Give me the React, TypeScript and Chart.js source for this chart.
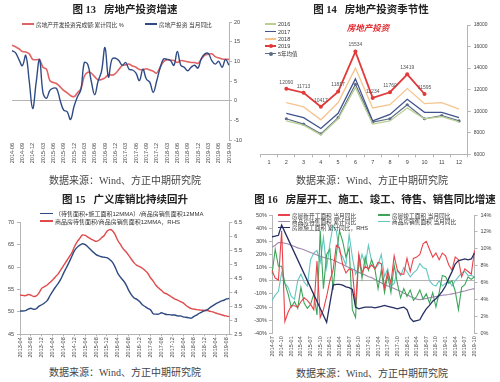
import React, { useEffect, useRef } from "react";
import { Chart, registerables } from "chart.js";
Chart.register(...registerables);

const FONT = "'Liberation Sans','Noto Sans CJK SC',sans-serif";
const TFONT = "'Liberation Serif','Noto Sans CJK SC',serif";
Chart.defaults.font.family = FONT;
Chart.defaults.color = "#444";

function months(y0: number, m0: number, n: number): string[] {
  const out: string[] = [];
  let y = y0, m = m0;
  for (let i = 0; i < n; i++) {
    out.push(`${y}-${String(m).padStart(2, "0")}`);
    m++;
    if (m > 12) { m = 1; y++; }
  }
  return out;
}

// ---------- Fig 13 ----------
const f13Labels = months(2014, 6, 64);
const f13Cum = [14.1, 13.7, 13.2, 12.5, 12.4, 11.9, 10.5, 10.4, 10.4, 8.5, 8.0, 5.1, 4.6, 4.3, 3.5, 2.6, 2.0, 1.3, 1.0, 2.0, 3.0, 6.2, 7.2, 7.0, 6.1, 5.3, 5.4, 5.8, 6.6, 6.5, 6.9, 7.9, 8.9, 9.1, 9.3, 8.8, 8.5, 7.9, 7.9, 8.1, 7.8, 7.5, 7.0, 8.5, 9.9, 10.4, 10.3, 10.2, 9.7, 10.2, 10.1, 9.9, 9.7, 9.7, 9.5, 10.6, 11.6, 11.8, 11.9, 11.2, 10.9, 10.6, 10.5, 10.5];
const f13Mon = [12.7, 12.2, 10.5, 8.9, 11.5, 5.0, -2.0, 4.5, 10.5, 2.0, 0.6, 2.6, 3.2, 3.0, 0.0, -2.4, -2.8, -4.8, -1.5, 1.0, 2.8, 9.7, 9.2, 5.0, 1.5, 5.0, 7.5, 13.5, 6.0, 10.5, 10.8, 10.2, 9.0, 9.7, 8.0, 7.8, 7.0, 5.1, 8.0, 5.5, 4.7, 2.1, 5.0, 8.3, 10.6, 10.5, 10.2, 9.0, 12.5, 9.0, 8.5, 7.6, 8.5, 9.0, 8.3, 10.8, 11.9, 12.0, 10.2, 9.3, 10.0, 8.5, 10.5, 9.0];

// ---------- Fig 14 ----------
const f14Labels = ["1", "2", "3", "4", "5", "6", "7", "8", "9", "10", "11", "12"];
const y2016 = [null, 9100, 8700, 7800, 9300, 12200, 8800, 9100, 10300, 9300, 9500, 9000];
const y2017 = [null, 9800, 9400, 8400, 9800, 13000, 9100, 9700, 11100, 9900, 9900, 9400];
const y2018 = [null, 10800, 10400, 9200, 10800, 14000, 10300, 10600, 12100, 10700, 10800, 10200];
const y2019 = [null, 12090, 11713, 10417, 11817, 15534, 11234, 11760, 13419, 11595, null, null];
const avg5 = [null, 9300, 8800, 7900, 9400, 12500, 9000, 9300, 10600, 9300, 9600, 9100];

// ---------- Fig 15 ----------
const f15Labels = months(2013, 4, 78);
const f15Broad = [50.2, 50.2, 50.3, 50.6, 50.8, 50.6, 50.7, 51.3, 51.6, 52.0, 52.5, 53.6, 54.6, 55.5, 56.3, 57.3, 58.6, 59.8, 61.0, 62.3, 63.6, 64.4, 64.9, 65.2, 65.0, 64.5, 63.9, 63.3, 62.8, 62.5, 62.3, 62.2, 62.1, 61.7, 61.1, 60.0, 58.6, 57.7, 57.0, 56.1, 54.8, 53.8, 53.1, 52.8, 52.3, 51.6, 51.2, 50.8, 50.5, 49.6, 49.5, 49.5, 49.8, 49.6, 49.4, 49.4, 49.3, 49.3, 49.1, 49.1, 48.9, 48.8, 48.7, 48.6, 49.0, 49.3, 49.7, 50.0, 50.3, 50.5, 51.0, 51.4, 51.8, 52.1, 52.4, 52.6, 52.9, 53.0];
const f15Narrow = [3.90, 3.89, 3.88, 3.92, 3.90, 3.85, 3.87, 3.98, 4.14, 4.20, 4.26, 4.35, 4.44, 4.55, 4.65, 4.80, 4.95, 5.10, 5.25, 5.40, 5.62, 5.80, 5.93, 6.05, 6.03, 5.97, 5.91, 5.86, 5.82, 5.86, 5.95, 6.03, 6.18, 6.24, 6.20, 6.06, 5.85, 5.70, 5.55, 5.45, 5.32, 5.18, 5.05, 4.96, 4.92, 4.86, 4.78, 4.68, 4.52, 4.40, 4.25, 4.15, 4.07, 3.98, 3.94, 3.88, 3.82, 3.76, 3.72, 3.67, 3.62, 3.54, 3.47, 3.42, 3.40, 3.38, 3.37, 3.36, 3.35, 3.35, 3.32, 3.30, 3.26, 3.23, 3.20, 3.17, 3.15, 3.13];

// ---------- Fig 16 ----------
const f16Labels = months(2014, 7, 64);
const newStart = [8, 2, 0.5, 38, -31, -24, -19, -19, -20, -16, -13, -15, -18, -22, 15, -28, -22, -12, 0, 8, 27, 25, 12, 6, 9, 8, -19, 20, 6, 11, 9, 12, 9, 14, 13, -5, 7, -2, 19, 8, 5, 5, 17, 7, 17, 18, 20, 28, 30, 24, 18, 21, 16, 21, 19, 12, 8, 18, 16, 3, 9, 7, 5, 23];
const completed = [5, 24, 11, 11, -2, -10, -20, -16, -21, -5, -17, -21, -18, -10, -26, 38, -6, 20, 24, -7, 20, 38, 30, 18, 25, -22, -28, 20, 2, 18, 8, 16, 9, -6, 8, -9, 4, -9, 12, -2, -13, -6, -12, -7, -15, -12, -7, -14, -10, -17, -9, -20, -9, 4, 3, -2, 0, -8, -22, -5, -3, 3, 1, 3];
const unsold = [25.5, 27, 29, 29, 28.5, 28, 27, 26, 25, 24.3, 23.5, 22.5, 21.5, 20.5, 19.5, 18.5, 17.8, 17, 16.5, 15.7, 14.7, 13.5, 12.5, 11, 10, 9, 7.8, 6.5, 5.3, 4.3, 3, 2.5, 1, -0.5, -1.5, -3, -4, -5, -6, -7, -8, -9.5, -10.5, -12, -13, -14, -14.5, -14, -13.5, -13, -12.5, -12, -11.5, -11, -10.8, -10.5, -10, -9.5, -9, -8.3, -7.8, -7, -6.5, -6];
const sales = [-15, -11, -8, 6, -2, -5, -12, -14, 0, 5, -1, -4, 16, 21, 23, 14, 33, 10, 28, 42, 38, 22, 18, 12, 35, 18, 5, 10, 20, 12, 27, 15, 9, 12, 20, 3, 9, -4, -2, 8, 4, 10, 7, 3, 6, 8, 13, 10, 9, 0, -3, -4, 0, -4, -2, 0, -4, 0, 3, 6, 7, 4, 4, 3];
const underCon = [11.4, 11.5, 11.6, 12.8, null, null, null, null, null, null, null, null, null, null, null, null, null, 1.3, 3.5, 5.7, 5.8, 5.8, 5.7, 5.5, 5.4, 5.2, 3.1, 2.9, 3.0, 3.1, 3.1, 3.1, 3.0, 3.1, 3.2, 3.3, 3.2, 3.1, 3.0, 2.9, 3.0, 3.1, 2.8, 1.8, 1.4, 1.5, 1.6, 2.3, 2.9, 3.3, 3.8, 4.1, 4.5, 5.0, 5.6, 6.5, 7.3, 8.2, 8.6, 8.7, 8.8, 8.7, 8.8, 9.5];

const AX = "#b5b5b5";
const fitW = (w: number) => (s: any) => { s.width = w; };
const fitH = (h: number) => (s: any) => { s.height = h; };
const tickFont = { size: 5.5, family: FONT };
const base = {
  responsive: false,
  animation: false as const,
  events: [] as any[],
  plugins: { legend: { display: false }, tooltip: { enabled: false } },
};

function ChartBox({ left, top, width, height, make }: any) {
  const ref = useRef<HTMLCanvasElement>(null);
  useEffect(() => {
    const chart = new Chart(ref.current as HTMLCanvasElement, make());
    return () => chart.destroy();
  }, []);
  return (
    <div style={{ position: "absolute", left, top, width, height }}>
      <canvas ref={ref} width={width} height={height} style={{ width, height, display: "block" }} />
    </div>
  );
}

function Txt({ cx, cy, size, bold, italic, color, font, children }: any) {
  return (
    <div style={{
      position: "absolute", left: cx - 200, width: 400, top: cy - size * 0.75,
      textAlign: "center", fontSize: size, lineHeight: `${size * 1.5}px`,
      fontWeight: bold ? 700 : 400, fontStyle: italic ? "italic" : "normal",
      color: color || "#222", fontFamily: font || TFONT, whiteSpace: "pre",
    }}>{children}</div>
  );
}

function Leg({ x, y, color, text, lw = 1.5, marker, size = 5.7, len = 12 }: any) {
  return (
    <div style={{ position: "absolute", left: x, top: y - 5, height: 10, display: "flex", alignItems: "center", whiteSpace: "pre", fontFamily: FONT, fontSize: size, color: "#333" }}>
      <div style={{ position: "relative", width: len, height: 10, marginRight: 2 }}>
        <div style={{ position: "absolute", left: 0, right: 0, top: 5 - lw / 2, height: lw, background: color }} />
        {marker ? <div style={{ position: "absolute", left: len / 2 - 2, top: 3, width: 4, height: 4, borderRadius: 2, background: color }} /> : null}
      </div>
      <span>{text}</span>
    </div>
  );
}

const make13 = () => ({
  type: "line",
  data: {
    labels: f13Labels,
    datasets: [
      { data: f13Mon, borderColor: "#2f4b86", borderWidth: 1.4, pointRadius: 0, tension: 0.4 },
      { data: f13Cum, borderColor: "#e06464", borderWidth: 1.6, pointRadius: 0, tension: 0.4 },
    ],
  },
  options: {
    ...base,
    layout: { padding: { left: 12, top: 22, right: 0, bottom: 0 } },
    scales: {
      x: {
        afterFit: fitH(30),
        border: { display: false },
        grid: { display: false, drawTicks: false },
        ticks: { autoSkip: false, minRotation: 90, maxRotation: 90, padding: 3, font: tickFont, callback: (_v: any, i: number) => (i % 3 === 0 ? f13Labels[i] : "") },
      },
      y: {
        position: "right", min: -10, max: 20,
        afterFit: fitW(21),
        border: { color: AX },
        grid: { color: (c: any) => (c.tick && c.tick.value === 0 ? AX : "transparent"), tickColor: AX, tickLength: 3 },
        ticks: { stepSize: 5, padding: 2, font: tickFont, callback: (v: any) => String(v) },
      },
    },
  },
});

const labelPlugin = {
  id: "lbl2019",
  afterDatasetsDraw(chart: any) {
    const ctx = chart.ctx;
    const meta = chart.getDatasetMeta(3);
    ctx.save();
    ctx.font = `5px ${FONT}`;
    ctx.fillStyle = "#555";
    ctx.textAlign = "center";
    ctx.textBaseline = "bottom";
    meta.data.forEach((pt: any, i: number) => {
      const v = y2019[i];
      if (v == null) return;
      ctx.fillText(String(v), pt.x, pt.y - 4);
    });
    ctx.restore();
  },
};

const make14 = () => ({
  type: "line",
  data: {
    labels: f14Labels,
    datasets: [
      { data: y2016, borderColor: "#b9cf93", borderWidth: 1.3, pointRadius: 0 },
      { data: y2017, borderColor: "#42548f", borderWidth: 1.3, pointRadius: 0 },
      { data: y2018, borderColor: "#f6c48f", borderWidth: 1.3, pointRadius: 0 },
      { data: y2019, borderColor: "#e23a3a", backgroundColor: "#e23a3a", borderWidth: 1.8, pointRadius: 2, pointBorderWidth: 0 },
      { data: avg5, borderColor: "#5c6c88", backgroundColor: "#5c6c88", borderWidth: 1.2, pointRadius: 1.6, pointBorderWidth: 0 },
    ],
  },
  options: {
    ...base,
    layout: { padding: { left: 10.4, top: 25, right: 0, bottom: 0 } },
    scales: {
      x: {
        offset: true,
        afterFit: fitH(15.7),
        border: { color: AX },
        grid: { drawOnChartArea: false, color: AX, tickLength: 3, offset: true },
        ticks: { padding: 2, font: tickFont },
      },
      y: {
        position: "right", min: 6000, max: 18000,
        afterFit: fitW(32.3),
        border: { color: AX },
        grid: { drawOnChartArea: false, color: AX, tickLength: 3 },
        ticks: { stepSize: 2000, padding: 3, font: { size: 5, family: FONT }, callback: (v: any) => String(v) },
      },
    },
  },
  plugins: [labelPlugin],
});

const make15 = () => ({
  type: "line",
  data: {
    labels: f15Labels,
    datasets: [
      { data: f15Broad, yAxisID: "y", borderColor: "#2e4a80", borderWidth: 1.4, pointRadius: 0, tension: 0.3 },
      { data: f15Narrow, yAxisID: "y1", borderColor: "#e04a4a", borderWidth: 1.4, pointRadius: 0, tension: 0.3 },
    ],
  },
  options: {
    ...base,
    layout: { padding: { left: 0, top: 32.3, right: 0, bottom: 0 } },
    scales: {
      x: {
        afterFit: fitH(25.7),
        border: { color: AX },
        grid: { drawOnChartArea: false, tickLength: 2, color: (c: any) => (c.index % 4 === 0 ? AX : "transparent") },
        ticks: { autoSkip: false, minRotation: 90, maxRotation: 90, padding: 1, font: tickFont, callback: (_v: any, i: number) => (i % 4 === 0 ? f15Labels[i] : "") },
      },
      y: {
        position: "left", min: 45, max: 70,
        afterFit: fitW(20),
        border: { color: AX },
        grid: { drawOnChartArea: false, color: AX, tickLength: 3 },
        ticks: { stepSize: 5, padding: 3, font: tickFont, callback: (v: any) => String(v) },
      },
      y1: {
        position: "right", min: 2.5, max: 6.5,
        afterFit: fitW(20.7),
        border: { color: AX },
        grid: { drawOnChartArea: false, color: AX, tickLength: 3 },
        ticks: { stepSize: 0.5, padding: 2, font: tickFont, callback: (v: any) => String(v) },
      },
    },
  },
});

const make16 = () => ({
  type: "line",
  data: {
    labels: f16Labels,
    datasets: [
      { data: underCon, yAxisID: "y1", borderColor: "#262f63", borderWidth: 1.3, pointRadius: 0, spanGaps: true },
      { data: newStart, yAxisID: "y", borderColor: "#e8434a", borderWidth: 1.1, pointRadius: 0 },
      { data: completed, yAxisID: "y", borderColor: "#3ea55c", borderWidth: 1.1, pointRadius: 0 },
      { data: unsold, yAxisID: "y", borderColor: "#a088ad", borderWidth: 1.1, pointRadius: 0 },
      { data: sales, yAxisID: "y", borderColor: "#62c7c0", borderWidth: 1.1, pointRadius: 0 },
    ],
  },
  options: {
    ...base,
    layout: { padding: { left: 0, top: 25, right: 0, bottom: 0 } },
    scales: {
      x: {
        afterFit: fitH(26.7),
        border: { display: false },
        grid: { display: false, drawTicks: false },
        ticks: { autoSkip: false, minRotation: 90, maxRotation: 90, padding: 3, font: tickFont, callback: (_v: any, i: number) => (i % 3 === 0 ? f16Labels[i] : "") },
      },
      y: {
        position: "left", min: -40, max: 50,
        afterFit: fitW(22),
        border: { color: AX },
        grid: { color: (c: any) => (c.tick && c.tick.value === 0 ? AX : "transparent"), tickColor: AX, tickLength: 3 },
        ticks: { stepSize: 10, padding: 2, font: tickFont, callback: (v: any) => `${v}%` },
      },
      y1: {
        position: "right", min: 0, max: 14,
        afterFit: fitW(25.5),
        border: { color: AX },
        grid: { drawOnChartArea: false, color: AX, tickLength: 3 },
        ticks: { stepSize: 2, padding: 3, font: tickFont, callback: (v: any) => `${v}%` },
      },
    },
  },
});

export default function App() {
  return (
    <div style={{ position: "fixed", left: 0, top: 0, width: 500, height: 382, background: "#fff", overflow: "hidden" }}>
      <ChartBox left={0} top={0} width={250} height={170} make={make13} />
      <ChartBox left={250} top={0} width={250} height={170} make={make14} />
      <ChartBox left={0} top={190} width={250} height={170} make={make15} />
      <ChartBox left={250} top={190} width={250} height={170} make={make16} />

      <Txt cx={125} cy={10} size={10.5} bold>{"图 13   房地产投资增速"}</Txt>
      <Txt cx={371} cy={10} size={10.5} bold>{"图 14   房地产投资季节性"}</Txt>
      <Txt cx={125} cy={200} size={10.5} bold>{"图 15   广义库销比持续回升"}</Txt>
      <Txt cx={375} cy={200} size={10.5} bold>{"图 16   房屋开工、施工、竣工、待售、销售同比增速"}</Txt>

      <Txt cx={125} cy={180} size={10} color="#444">数据来源：Wind、方正中期研究院</Txt>
      <Txt cx={372} cy={180} size={10} color="#444">数据来源：Wind、方正中期研究院</Txt>
      <Txt cx={125} cy={372} size={10} color="#444">数据来源：Wind、方正中期研究院</Txt>
      <Txt cx={372} cy={373} size={10} color="#444">数据来源：Wind、方正中期研究院</Txt>

      <Leg x={22} y={24} color="#e06464" text="房地产开发投资完成额:累计同比 %" />
      <Leg x={145} y={24} color="#2f4b86" text="房地产投资 当月同比" />

      <Txt cx={368} cy={28} size={8.5} bold italic color="#e3262b" font={FONT}>房地产投资</Txt>
      <Leg x={265} y={24} color="#b9cf93" text="2016" size={5.5} len={11} />
      <Leg x={265} y={31.5} color="#42548f" text="2017" size={5.5} len={11} />
      <Leg x={265} y={39} color="#f6c48f" text="2018" size={5.5} len={11} />
      <Leg x={265} y={46} color="#e23a3a" text="2019" size={5.5} len={11} marker lw={1.8} />
      <Leg x={265} y={53.5} color="#5c6c88" text="5年均值" size={5.5} len={11} marker lw={1.2} />

      <Leg x={40} y={213.5} color="#2e4a80" text="（待售面积+施工面积12MMA）/商品房销售面积12MMA" size={6} len={13} />
      <Leg x={40} y={221} color="#e04a4a" text="商品房待售面积/商品房销售面积12MMA，RHS" size={6} len={13} />

      <Leg x={278} y={215} color="#e8434a" text="房屋新开工面积 当月同比" size={5.7} />
      <Leg x={278} y={221.3} color="#a088ad" text="商品房待售面积 累计同比" size={5.7} />
      <Leg x={278} y={227.6} color="#262f63" text="房屋施工面积 累计同比，RHS" size={5.7} />
      <Leg x={378} y={215} color="#3ea55c" text="房屋竣工面积 当月同比" size={5.7} />
      <Leg x={378} y={221.3} color="#62c7c0" text="商品房销售面积 当月同比" size={5.7} />
    </div>
  );
}
